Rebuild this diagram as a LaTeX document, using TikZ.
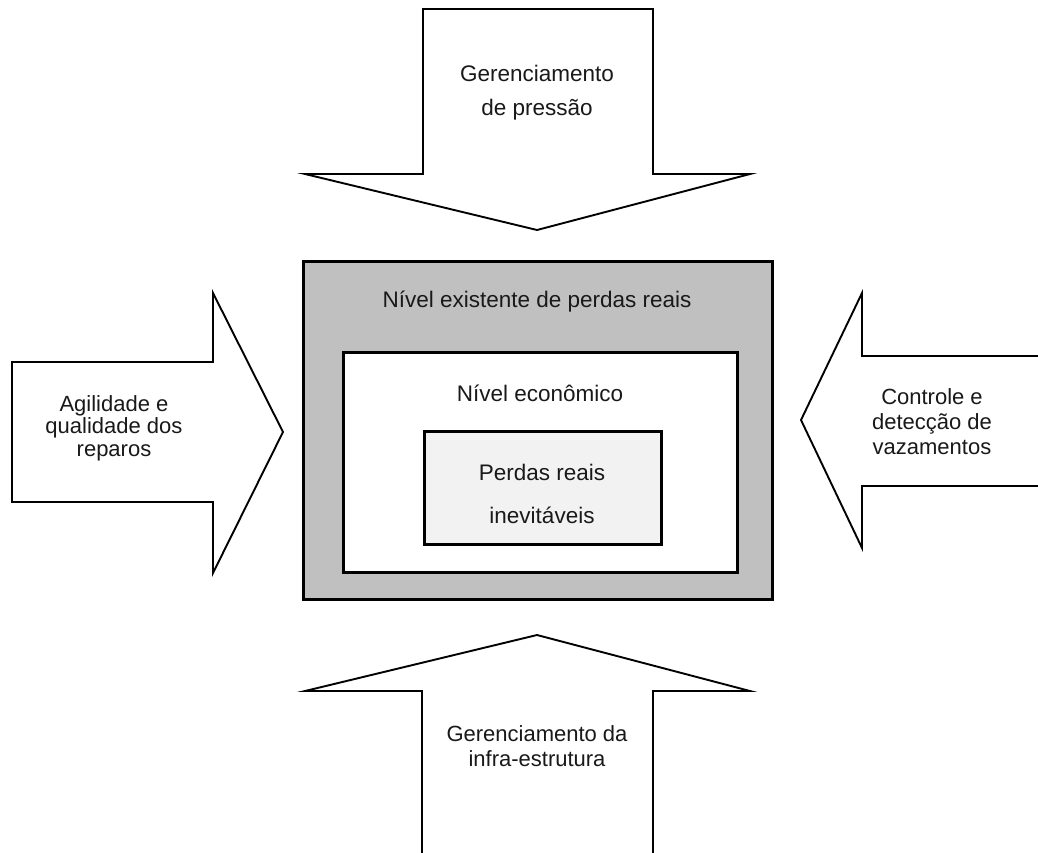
\documentclass[tikz,border=0pt]{standalone}
\usepackage{fontspec}
\setmainfont{Liberation Sans}
\begin{document}
\begin{tikzpicture}[x=1pt,y=-1pt,
  arrowshape/.style={draw=black,line width=1.9pt,line join=miter,fill=white},
  boxshape/.style={draw=black,line width=3pt},
  lbl/.style={font=\fontsize{22.5}{24}\selectfont,align=center,inner sep=0pt,text=black!90}]
\useasboundingbox (0,0) rectangle (1038,852);
% top arrow
\draw[arrowshape] (423,9) -- (653,9) -- (653,174) -- (750,174) -- (537,230) -- (305,174) -- (423,174) -- cycle;
\node[lbl] (toptxt) at (537,73) {Gerenciamento};
\node[lbl] (toptxt2) at (537,110) {de pressão};
% left arrow
\draw[arrowshape] (12,362) -- (213,362) -- (213,293) -- (283,432) -- (213,573) -- (213,502) -- (12,502) -- cycle;
\node[lbl,font=\fontsize{22}{22.5}\selectfont] (lefttxt) at (114,428) {Agilidade e\\qualidade dos\\reparos};
% right arrow
\draw[arrowshape] (1040,356) -- (862,356) -- (862,293) -- (801,420) -- (862,548) -- (862,486) -- (1040,486);
\node[lbl,font=\fontsize{22}{25}\selectfont] (righttxt) at (932,422) {Controle e\\detecção de\\vazamentos};
% bottom arrow
\draw[arrowshape] (422,854) -- (422,691) -- (305,691) -- (537,635) -- (750,691) -- (653,691) -- (653,854);
\node[lbl,font=\fontsize{22}{25}\selectfont] (bottxt) at (537,746) {Gerenciamento da\\infra-estrutura};
% central boxes
\draw[boxshape,fill={rgb,255:red,192;green,192;blue,192}] (303,261) rectangle (772,599);
\node[lbl] (outertxt) at (537,302) {Nível existente de perdas reais};
\draw[boxshape,fill=white] (343,352) rectangle (737,572);
\node[lbl] (midtxt) at (540,393) {Nível econômico};
\draw[boxshape,fill={rgb,255:red,242;green,242;blue,242}] (424,431) rectangle (661,544);
\node[lbl] (innertxt) at (542,472) {Perdas reais};
\node[lbl] (innertxt2) at (542,515) {inevitáveis};
\end{tikzpicture}
\end{document}
